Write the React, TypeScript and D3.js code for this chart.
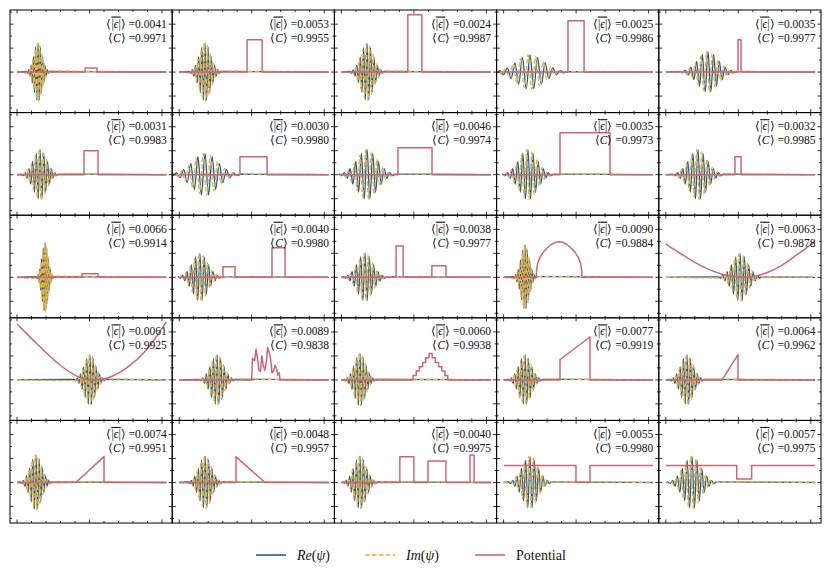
import React from 'react';
import * as d3 from 'd3';

const W = 831;
const H = 580;
const GRID_LEFT = 10;
const GRID_TOP = 10;
const CELL_W = 162.2;
const CELL_H = 102.6;
const X_DOMAIN: [number, number] = [0, 10.3];
const Y_DOMAIN: [number, number] = [-1.69, 2.59];

const RE_COLOR = '#1d5c9e';
const IM_COLOR = '#e8b13c';
const POT_COLOR = '#cc6677';
const FONT = 'Liberation Serif, Times New Roman, serif';

// annotation values, panel order row by row
const EPS_MEAN = ['0.0041', '0.0053', '0.0024', '0.0025', '0.0035', '0.0031', '0.0030', '0.0046', '0.0035', '0.0032',
  '0.0066', '0.0040', '0.0038', '0.0090', '0.0063', '0.0061', '0.0089', '0.0060', '0.0077', '0.0064',
  '0.0074', '0.0048', '0.0040', '0.0055', '0.0057'];
const CORR_MEAN = ['0.9971', '0.9955', '0.9987', '0.9986', '0.9977', '0.9983', '0.9980', '0.9974', '0.9973', '0.9985',
  '0.9914', '0.9980', '0.9977', '0.9884', '0.9878', '0.9925', '0.9838', '0.9938', '0.9919', '0.9962',
  '0.9951', '0.9957', '0.9975', '0.9980', '0.9975'];

const RE_SHAPE = [0.02, -0.04, 0.08, -0.14, 0.24, -0.37, 0.53, -0.7, 0.85, -0.96, 1.0, -0.96, 0.85, -0.7, 0.53, -0.37, 0.24, -0.14, 0.08, -0.04, 0.02];
const IM_SHAPE = [-0.03, 0.06, -0.11, 0.19, -0.3, 0.45, -0.62, 0.78, -0.91, 0.99, -0.99, 0.91, -0.78, 0.62, -0.45, 0.3, -0.19, 0.11, -0.06, 0.03];

const PACKET_CENTER = [1.45, 1.78, 1.77, 1.82, 2.91, 1.59, 1.78, 1.77, 1.68, 2.22,
  1.93, 1.43, 1.63, 1.48, 5.12, 5.03, 2.61, 1.28, 1.48, 1.46,
  1.31, 1.79, 1.28, 1.82, 1.81];
const PACKET_WIDTH = [1.58, 2.17, 2.36, 5.2, 3.9, 2.56, 4.9, 3.9, 3.5, 3.5,
  1.18, 2.96, 2.96, 1.58, 2.96, 2.17, 2.46, 2.17, 2.36, 2.36,
  2.17, 2.36, 2.36, 2.96, 3.35];
const PACKET_AMP = [1.22, 1.22, 1.2, 0.72, 0.85, 1.05, 0.88, 1.05, 1.05, 1.05,
  1.44, 1.0, 1.0, 1.35, 1.0, 1.05, 1.05, 1.1, 1.05, 1.05,
  1.15, 1.1, 1.1, 1.1, 1.1];

type Pt = [number, number];

const POTENTIALS: Pt[][] = [
  [[0, 0], [4.69, 0], [4.69, 0.17], [5.52, 0.17], [5.52, 0], [10.3, 0]],
  [[0, 0], [4.68, 0], [4.68, 1.35], [5.72, 1.35], [5.72, 0], [10.3, 0]],
  [[0, 0], [4.58, 0], [4.58, 2.39], [5.55, 2.39], [5.55, 0], [10.3, 0]],
  [[0, 0], [4.44, 0], [4.44, 2.14], [5.55, 2.14], [5.55, 0], [10.3, 0]],
  [[0, 0], [4.98, 0], [4.98, 1.35], [5.19, 1.35], [5.19, 0], [10.3, 0]],
  [[0, 0], [4.62, 0], [4.62, 1.0], [5.59, 1.0], [5.59, 0], [10.3, 0]],
  [[0, 0], [4.19, 0], [4.19, 0.75], [6.06, 0.75], [6.06, 0], [10.3, 0]],
  [[0, 0], [3.9, 0], [3.9, 1.12], [6.25, 1.12], [6.25, 0], [10.3, 0]],
  [[0, 0], [3.89, 0], [3.89, 1.75], [7.34, 1.75], [7.34, 0], [10.3, 0]],
  [[0, 0], [4.77, 0], [4.77, 0.75], [5.19, 0.75], [5.19, 0], [10.3, 0]],
  [[0, 0], [4.48, 0], [4.48, 0.15], [5.59, 0.15], [5.59, 0], [10.3, 0]],
  [[0, 0], [3.02, 0], [3.02, 0.44], [3.85, 0.44], [3.85, 0], [6.4, 0], [6.4, 1.23], [7.3, 1.23], [7.3, 0], [10.3, 0]],
  [[0, 0], [3.77, 0], [3.77, 1.31], [4.26, 1.31], [4.26, 0], [6.24, 0], [6.24, 0.48], [7.21, 0.48], [7.21, 0], [10.3, 0]],
  [[0, 0], [2.25, 0], [2.27, 0.25], [2.35, 0.58], [2.5, 0.82], [2.75, 1.06], [3.0, 1.22], [3.3, 1.38], [3.6, 1.46], [3.83, 1.48],
    [4.06, 1.46], [4.36, 1.38], [4.66, 1.22], [4.91, 1.06], [5.16, 0.82], [5.31, 0.58], [5.39, 0.25], [5.41, 0], [10.3, 0]],
  [[0, 1.38], [1, 1.0], [2, 0.62], [3, 0.32], [4, 0.11], [5, 0.01], [5.4, 0], [6, 0.03], [7, 0.2], [8, 0.5], [9, 0.92], [10.3, 1.5]],
  [[0, 2.33], [1.1, 1.67], [2.03, 1.12], [2.94, 0.63], [4.09, 0.17], [5.01, 0.0], [5.3, 0], [6.16, 0.07], [7.54, 0.49], [8.92, 1.25], [10.3, 2.42]],
  [[0, 0], [5.0, 0], [5.05, 0.9], [5.2, 0.8], [5.3, 1.28], [5.4, 0.9], [5.5, 0.4], [5.6, 0.35], [5.7, 1.0], [5.8, 0.6], [5.9, 0.4],
    [6.0, 0.7], [6.1, 1.35], [6.2, 1.15], [6.3, 0.9], [6.4, 0.3], [6.5, 0.35], [6.6, 0.6], [6.7, 0.5], [6.8, 0.2], [6.9, 0.3], [6.95, 0], [10.3, 0]],
  [[0, 0], [4.94, 0.18], [5.16, 0.37], [5.38, 0.55], [5.6, 0.73], [5.82, 0.92], [6.04, 1.1], [6.26, 0.92], [6.48, 0.73],
    [6.7, 0.55], [6.92, 0.37], [7.14, 0.18], [7.34, 0], [10.3, 0]],
  [[0, 0], [3.89, 0], [3.89, 0.84], [5.96, 1.8], [5.96, 0], [10.3, 0]],
  [[0, 0], [3.88, 0], [4.98, 1.05], [4.98, 0], [10.3, 0]],
  [[0, 0], [4.06, 0], [6.0, 1.08], [6.0, 0], [10.3, 0]],
  [[0, 0], [3.92, 0], [3.92, 1.07], [5.92, 0], [10.3, 0]],
  [[0, 0], [4.03, 0], [4.03, 1.07], [5.0, 1.07], [5.0, 0], [5.97, 0], [5.97, 0.9], [7.21, 0.9], [7.21, 0],
    [8.87, 0], [8.87, 1.15], [9.15, 1.15], [9.15, 0], [10.3, 0]],
  [[0, 0.71], [4.99, 0.71], [4.99, 0], [5.96, 0], [5.96, 0.71], [10.3, 0.71]],
  [[0, 0.71], [4.89, 0.71], [4.89, 0.15], [5.92, 0.15], [5.92, 0.71], [10.3, 0.71]],
];
// how the potential is drawn
const POT_CURVE = ['linear', 'linear', 'linear', 'linear', 'linear', 'linear', 'linear', 'linear', 'linear', 'linear',
  'linear', 'linear', 'linear', 'linear', 'smooth', 'smooth', 'linear', 'step', 'linear', 'linear',
  'linear', 'linear', 'linear', 'linear', 'linear'];

const X_TICKS = d3.range(0, 11, 1);
const Y_TICKS = d3.range(-1.5, 2.51, 0.5);

function Panel({ i }: { i: number }) {
  const col = i % 5;
  const row = Math.floor(i / 5);
  const left = GRID_LEFT + col * CELL_W;
  const top = GRID_TOP + row * CELL_H;
  const x = d3.scaleLinear().domain(X_DOMAIN).range([left + 7, left + 7 + 10.3 * 14.5]);
  const y = d3.scaleLinear().domain(Y_DOMAIN).range([top + CELL_H, top]);

  const c = PACKET_CENTER[i];
  const w = PACKET_WIDTH[i];
  const amp = PACKET_AMP[i];
  const idx = d3.scaleLinear().domain([0, RE_SHAPE.length - 1]).range([c - w / 2, c + w / 2]);
  const rePts: Pt[] = [[X_DOMAIN[0], 0], ...RE_SHAPE.map((v, k) => [idx(k), v * amp] as Pt), [X_DOMAIN[1], 0]];
  const imPts: Pt[] = [[X_DOMAIN[0], 0], ...IM_SHAPE.map((v, k) => [idx(k + 0.5), v * amp] as Pt), [X_DOMAIN[1], 0]];

  const wave = d3.line<Pt>().x((d) => x(d[0])).y((d) => y(d[1])).curve(d3.curveMonotoneX);
  const curve = POT_CURVE[i] === 'smooth' ? d3.curveMonotoneX : POT_CURVE[i] === 'step' ? d3.curveStepAfter : d3.curveLinear;
  const pot = d3.line<Pt>().x((d) => x(d[0])).y((d) => y(d[1])).curve(curve);

  const clipId = `clip-${i}`;
  const right = left + CELL_W;
  const bottom = top + CELL_H;

  return (
    <g>
      <defs>
        <clipPath id={clipId}>
          <rect x={left} y={top} width={CELL_W} height={CELL_H} />
        </clipPath>
      </defs>
      <g clipPath={`url(#${clipId})`} fill="none" strokeLinejoin="round">
        <path d={wave(rePts) || ''} stroke={RE_COLOR} strokeWidth={1.3} />
        <path d={wave(imPts) || ''} stroke={IM_COLOR} strokeWidth={1.3} strokeDasharray="4.8,2.1" />
        <path d={pot(POTENTIALS[i]) || ''} stroke={POT_COLOR} strokeWidth={1.5} />
      </g>
      <g stroke="#000" strokeWidth={0.8}>
        {X_TICKS.map((t) => {
          const len = t % 5 === 0 ? 3.5 : 2;
          return (
            <g key={`x${t}`}>
              <line x1={x(t)} x2={x(t)} y1={bottom} y2={bottom - len} />
              <line x1={x(t)} x2={x(t)} y1={top} y2={top + len} />
            </g>
          );
        })}
        {Y_TICKS.map((t) => {
          const len = Number.isInteger(t) ? 3.5 : 2;
          return (
            <g key={`y${t}`}>
              <line x1={left} x2={left + len} y1={y(t)} y2={y(t)} />
              <line x1={right} x2={right - len} y1={y(t)} y2={y(t)} />
            </g>
          );
        })}
      </g>
      <rect x={left} y={top} width={CELL_W} height={CELL_H} fill="none" stroke="#000" strokeWidth={1} />
      <text x={right - 5.5} y={top + 17.5} textAnchor="end" fontSize={11.5} fontFamily={FONT} fill="#111">
        ⟨<tspan style={{ textDecoration: 'overline' }}>|<tspan fontStyle="italic">ϵ</tspan>|</tspan>⟩ ={EPS_MEAN[i]}
      </text>
      <text x={right - 5.5} y={top + 31.5} textAnchor="end" fontSize={11.5} fontFamily={FONT} fill="#111">
        ⟨<tspan fontStyle="italic">C</tspan>⟩ ={CORR_MEAN[i]}
      </text>
    </g>
  );
}

const LEGEND = [
  { label: 'Re', color: RE_COLOR, dash: undefined, x: 256 },
  { label: 'Im', color: IM_COLOR, dash: '4.8,2.1', x: 365 },
  { label: 'Potential', color: POT_COLOR, dash: undefined, x: 475 },
];

export default function App() {
  return (
    <svg width={W} height={H} viewBox={`0 0 ${W} ${H}`} style={{ position: 'absolute', left: 0, top: 0, background: '#fff' }}>
      <rect width={W} height={H} fill="#fff" />
      {d3.range(25).map((i) => (
        <Panel key={i} i={i} />
      ))}
      {LEGEND.map((d) => (
        <g key={d.label}>
          <line x1={d.x} x2={d.x + 30} y1={555} y2={555} stroke={d.color} strokeWidth={1.6} strokeDasharray={d.dash} />
          <text x={d.x + 41} y={559.5} fontSize={14} fontFamily={FONT} fill="#111">
            {d.label === 'Potential' ? (
              'Potential'
            ) : (
              <>
                <tspan fontStyle="italic">{d.label}</tspan>(<tspan fontStyle="italic">ψ</tspan>)
              </>
            )}
          </text>
        </g>
      ))}
    </svg>
  );
}
